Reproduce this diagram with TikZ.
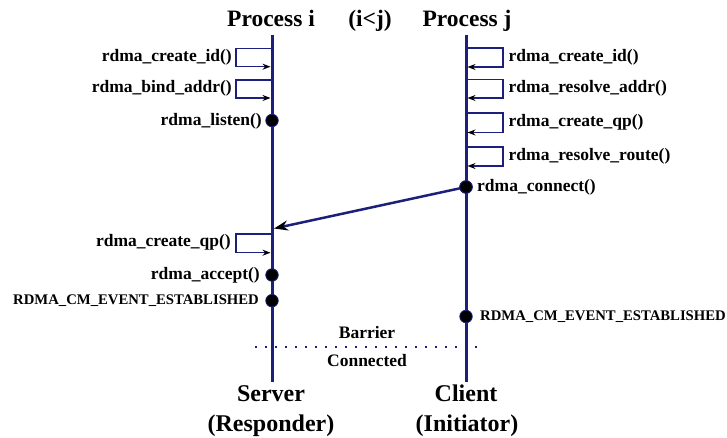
\documentclass[tikz,border=0pt]{standalone}
\usepackage{fontspec}
\setmainfont{Liberation Serif}
\usetikzlibrary{arrows.meta}
\definecolor{navy}{RGB}{28,32,122}
\begin{document}
\begin{tikzpicture}[x=1pt,y={(0pt,-1pt)},
  life/.style={navy,line width=3pt},
  selfbox/.style={navy,line width=1.3pt,-{Stealth[black,length=8pt,width=6pt]}},
  evt/.style={circle,fill=black,draw=navy,line width=0.8pt,minimum size=12.5pt,inner sep=0pt},
  lbl/.style={font=\fontsize{17.5}{20}\selectfont\bfseries,inner sep=0pt},
  smalllbl/.style={font=\fontsize{14.7}{17}\selectfont\bfseries,inner sep=0pt},
  head/.style={font=\fontsize{23.5}{27}\selectfont\bfseries,inner sep=0pt,anchor=base},
  foot/.style={font=\fontsize{24}{27}\selectfont\bfseries,inner sep=0pt,anchor=base},
  msg/.style={navy,line width=2.5pt,-{Stealth[black,length=14pt,width=10pt]}},
  barrier/.style={navy,line width=2.6pt,dash pattern=on 2.4pt off 7.6pt},
]
\useasboundingbox (0,0) rectangle (727,438);

% headers
\node[head] (pi) at (271,27) {Process i};
\node[head] (ij) at (370,27) {(i<j)};
\node[head] (pj) at (467,27) {Process j};

% lifelines
\coordinate (itop) at (272,35);
\coordinate (ibot) at (272,382);
\coordinate (jtop) at (466,35);
\coordinate (jbot) at (466,382);
\draw[life] (itop) -- (ibot);
\draw[life] (jtop) -- (jbot);

% left self boxes
\coordinate (i1a) at (272,48.3);  \coordinate (i1b) at (270.5,66.7);
\coordinate (i2a) at (272,80);    \coordinate (i2b) at (270.5,98);
\coordinate (i3a) at (272,234);   \coordinate (i3b) at (270.5,252.7);
\draw[selfbox] (i1a) -- (236,48.3) -- (236,66.7) -- (i1b);
\draw[selfbox] (i2a) -- (236,80) -- (236,98) -- (i2b);
\draw[selfbox] (i3a) -- (236,234) -- (236,252.7) -- (i3b);

% right self boxes
\coordinate (j1a) at (466,48);   \coordinate (j1b) at (467.5,67);
\coordinate (j2a) at (466,79.5); \coordinate (j2b) at (467.5,98);
\coordinate (j3a) at (466,113);  \coordinate (j3b) at (467.5,132.5);
\coordinate (j4a) at (466,147);  \coordinate (j4b) at (467.5,166);
\draw[selfbox] (j1a) -- (503,48) -- (503,67) -- (j1b);
\draw[selfbox] (j2a) -- (503,79.5) -- (503,98) -- (j2b);
\draw[selfbox] (j3a) -- (503,113) -- (503,132.5) -- (j3b);
\draw[selfbox] (j4a) -- (503,147) -- (503,166) -- (j4b);

% left labels
\node[lbl,anchor=base east] (l1) at (232,61.7) {rdma\_create\_id()};
\node[lbl,anchor=base east] (l2) at (232,93) {rdma\_bind\_addr()};
\node[lbl,anchor=base east] (l3) at (262,125.5) {rdma\_listen()};
\node[lbl,anchor=base east] (l4) at (231,246.7) {rdma\_create\_qp()};
\node[lbl,anchor=base east] (l5) at (260,279.3) {rdma\_accept()};
\node[smalllbl,anchor=base east] (l6) at (259,304.5) {RDMA\_CM\_EVENT\_ESTABLISHED};

% right labels
\node[lbl,anchor=base west] (r1) at (508.5,61.7) {rdma\_create\_id()};
\node[lbl,anchor=base west] (r2) at (508.5,93) {rdma\_resolve\_addr()};
\node[lbl,anchor=base west] (r3) at (508.5,126.5) {rdma\_create\_qp()};
\node[lbl,anchor=base west] (r4) at (508.5,160.5) {rdma\_resolve\_route()};
\node[lbl,anchor=base west] (r5) at (477,191.7) {rdma\_connect()};
\node[smalllbl,anchor=base west] (r6) at (480,320.5) {RDMA\_CM\_EVENT\_ESTABLISHED};

% message arrow
\coordinate (acc) at (274,228.5);
\node[evt] (conn) at (466,187) {};
\draw[msg] (conn.center) -- (acc);
\node[evt] (connfront) at (466,187) {};

% event dots
\node[evt] (listen) at (272,120.5) {};
\node[evt] (accept) at (272,275) {};
\node[evt] (esti) at (272,300.7) {};
\node[evt] (estj) at (466,316.5) {};

% barrier
\coordinate (bl) at (255,347);
\coordinate (br) at (480,347);
\draw[barrier] (bl) -- (br);
\node[lbl,anchor=base] (bar) at (367,338) {Barrier};
\node[lbl,anchor=base] (con) at (367,366.5) {Connected};

% footers
\node[foot] (srv) at (271,401.7) {Server};
\node[foot] (rsp) at (271,431) {(Responder)};
\node[foot] (cli) at (466,401.7) {Client};
\node[foot] (ini) at (467,431) {(Initiator)};
\end{tikzpicture}
\end{document}
